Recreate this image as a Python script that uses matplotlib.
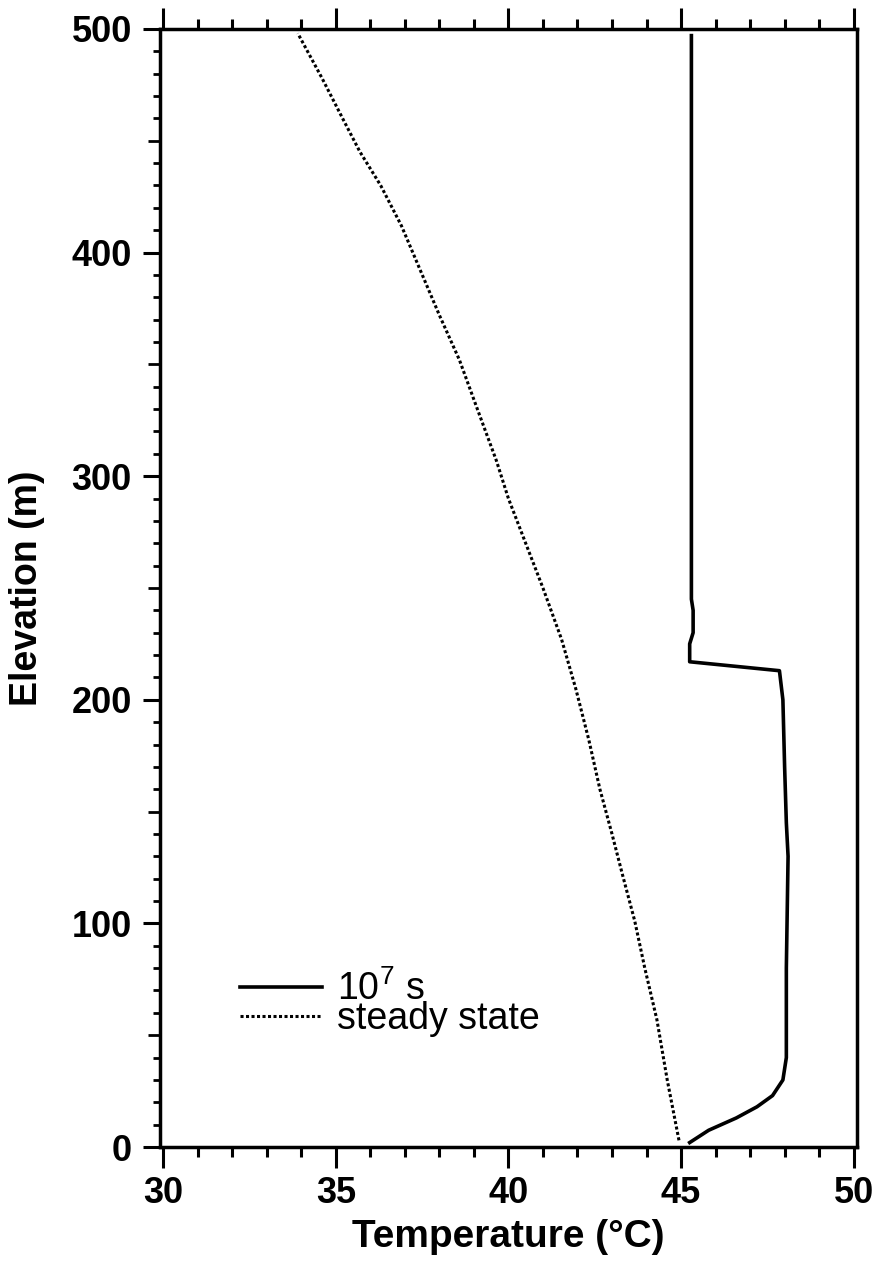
import matplotlib.pyplot as plt
import matplotlib.ticker as ticker

plt.rcParams['font.family'] = ['Liberation Sans', 'DejaVu Sans']
plt.rcParams['mathtext.default'] = 'regular'

# 10^7 s profile
t_1e7 = [45.25, 45.8, 46.6, 47.2, 47.65, 47.95, 48.05, 48.05, 48.1, 48.05, 48.0, 47.95, 47.85,
         45.25, 45.25, 45.35, 45.35, 45.3, 45.3, 45.3]
z_1e7 = [2, 7.5, 13, 18, 23, 30, 40, 80, 130, 145, 170, 200, 213,
         217, 225, 230, 240, 245, 300, 497]

# steady state profile
t_ss = [44.94, 44.6, 44.3, 43.95, 43.66, 43.3, 43.0, 42.65, 42.33, 41.95, 41.54, 41.0, 40.5,
        40.0, 39.65, 39.1, 38.58, 38.0, 37.45, 36.9, 36.3, 35.7, 35.23, 34.6, 33.9]
z_ss = [3, 30, 57, 80, 101, 122, 140, 160, 182, 205, 227, 250, 270,
        290, 307, 330, 352, 372, 392, 412, 430, 445, 459, 478, 498]

fig = plt.figure(figsize=(8.8, 12.62), dpi=100)
ax = fig.add_axes([0.1815, 0.0911, 0.7925, 0.886])

ax.plot(t_1e7, z_1e7, color='black', lw=2.6, label='10$^{7}$ s')
ax.plot(t_ss, z_ss, color='black', lw=2.2, linestyle=(0, (1, 0.8)),
        dash_capstyle='butt', label='steady state')

ax.set_xlim(29.9, 50.1)
ax.set_ylim(0, 500)

ax.xaxis.set_major_locator(ticker.MultipleLocator(5))
ax.xaxis.set_minor_locator(ticker.MultipleLocator(1))
ax.yaxis.set_major_locator(ticker.MultipleLocator(100))
ax.yaxis.set_minor_locator(ticker.MultipleLocator(10))

for s in ax.spines.values():
    s.set_linewidth(2.5)

ax.tick_params(axis='x', which='major', direction='out', length=15, width=2.2,
               top=True, bottom=True, labelsize=26, pad=6)
ax.tick_params(axis='x', which='minor', direction='out', length=7, width=2.2,
               top=True, bottom=True)
ax.tick_params(axis='y', which='major', direction='out', length=12, width=2.2,
               left=True, right=False, labelsize=26, pad=8)
ax.tick_params(axis='y', which='minor', direction='out', length=5, width=2.0,
               left=True, right=False)
for lab in ax.get_xticklabels() + ax.get_yticklabels():
    lab.set_fontweight('bold')

# medium ticks every 50 m
for loc, t in zip(ax.yaxis.get_minorticklocs(), ax.yaxis.get_minor_ticks()):
    if round(loc) % 50 == 0:
        t.tick1line.set_markersize(8.5)

ax.set_xlabel('Temperature (°C)', fontsize=28, fontweight='bold')
ax.set_ylabel('Elevation (m)', fontsize=27, fontweight='bold')
ax.xaxis.set_label_coords(0.5, -0.064)
ax.yaxis.set_label_coords(-0.165, 0.5)

ax.legend(loc='center left', bbox_to_anchor=(0.115, 0.128), frameon=False,
          fontsize=27, handlelength=2.2, handletextpad=0.4, labelspacing=-0.2,
          borderpad=0, borderaxespad=0)

plt.savefig('out.png')
